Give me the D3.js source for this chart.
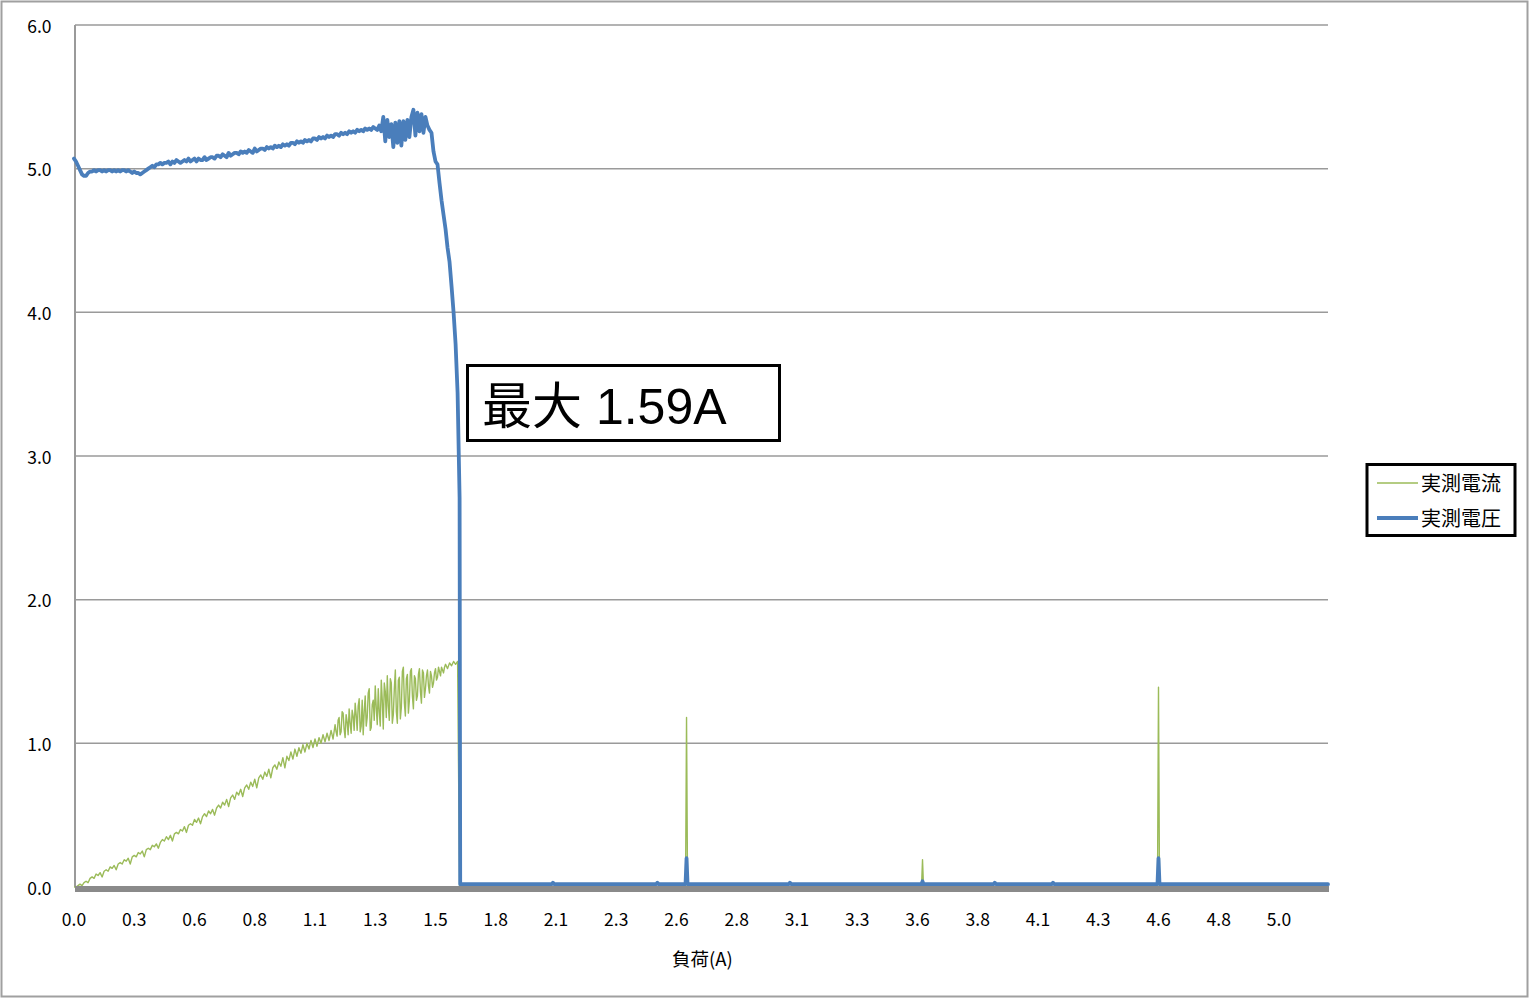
<!DOCTYPE html>
<html><head><meta charset="utf-8">
<script src="https://cdn.jsdelivr.net/npm/d3@7"></script>
<style>body{margin:0;background:#fff}</style>
</head><body><svg id="chart" width="1529" height="999"></svg>
<script>
// ---------- data ----------
const xTickLabels = ["0.0","0.3","0.6","0.8","1.1","1.3","1.5","1.8","2.1","2.3","2.6","2.8","3.1","3.3","3.6","3.8","4.1","4.3","4.6","4.8","5.0"];
const samplesPerLabel = 30;
const sampleCount = 624.4;
const yTicks = [0,1,2,3,4,5,6];
const seriesNames = ["実測電流","実測電圧"];
const xTitle = "負荷(A)";
const annotationText = "最大 1.59A";

// current (A), samples 0..192
const rampCurrent = [
0.00,0.00,0.01,0.02,0.01,0.03,0.04,0.03,0.06,0.07,
0.06,0.09,0.08,0.10,0.07,0.11,0.12,0.11,0.14,0.13,
0.15,0.12,0.16,0.17,0.16,0.19,0.18,0.20,0.16,0.21,
0.22,0.21,0.24,0.23,0.25,0.21,0.26,0.27,0.26,0.29,
0.28,0.30,0.27,0.31,0.33,0.32,0.35,0.33,0.36,0.32,
0.37,0.38,0.37,0.40,0.39,0.42,0.38,0.43,0.44,0.43,
0.47,0.45,0.48,0.44,0.49,0.51,0.49,0.53,0.51,0.54,
0.50,0.55,0.57,0.55,0.59,0.57,0.61,0.56,0.62,0.64,
0.61,0.66,0.64,0.68,0.63,0.69,0.71,0.68,0.73,0.70,
0.75,0.69,0.76,0.78,0.75,0.80,0.77,0.82,0.76,0.83,
0.85,0.82,0.87,0.84,0.90,0.83,0.91,0.88,0.94,0.89,
0.96,0.91,0.97,0.93,0.99,0.94,1.00,0.96,1.02,0.97,
1.03,0.98,1.04,1.00,1.06,1.01,1.07,1.02,1.09,1.03,
1.13,1.05,1.18,1.08,1.21,1.04,1.15,1.24,1.07,1.19,
1.28,1.09,1.31,1.12,1.06,1.33,1.18,1.38,1.11,1.30,
1.40,1.13,1.22,1.44,1.10,1.36,1.47,1.16,1.42,1.20,
1.51,1.14,1.46,1.25,1.53,1.19,1.48,1.30,1.52,1.24,
1.45,1.33,1.52,1.28,1.49,1.38,1.51,1.35,1.47,1.42,
1.52,1.46,1.50,1.53,1.49,1.55,1.52,1.56,1.54,1.57,
1.55,1.57,0.00];

// extra current samples in the dense noisy band, at half steps 130.5 .. 184.5
const bandHalfStart = 130.5;
const bandCurrentHalf = [
1.08,1.16,1.06,1.22,1.10,1.20,1.06,1.14,1.23,1.09,
1.20,1.26,1.08,1.30,1.22,1.12,1.35,1.09,1.27,1.16,
1.25,1.38,1.12,1.30,1.42,1.18,1.26,1.45,1.14,1.38,
1.22,1.44,1.17,1.50,1.28,1.45,1.21,1.50,1.33,1.47,
1.30,1.48,1.36,1.51,1.32,1.47,1.40,1.50,1.39,1.49,
1.44,1.53,1.47,1.51,1.53];

// voltage (V), samples 0..192
const rampVoltage = [
5.07,5.05,5.02,4.99,4.96,4.95,4.95,4.97,4.98,
4.98,4.99,4.98,4.99,4.99,4.98,4.99,4.98,4.99,4.99,4.98,4.99,4.98,4.99,4.98,4.99,4.99,4.98,4.99,4.98,4.97,4.98,4.97,
4.97,4.96,4.97,4.98,4.99,5.00,5.01,5.02,5.01,5.03,5.03,5.04,5.03,5.04,
5.04,5.05,5.03,5.05,5.04,5.06,5.05,5.04,5.05,5.06,
5.05,5.07,5.05,5.06,5.07,5.05,5.07,5.06,5.06,5.08,
5.06,5.07,5.08,5.08,5.07,5.09,5.09,5.08,5.10,5.09,
5.08,5.11,5.09,5.10,5.11,5.11,5.10,5.12,5.11,5.12,
5.11,5.13,5.12,5.11,5.14,5.12,5.13,5.14,5.14,5.13,
5.15,5.14,5.15,5.14,5.16,5.15,5.16,5.15,5.17,5.16,
5.17,5.16,5.18,5.18,5.17,5.19,5.18,5.19,5.18,5.20,
5.19,5.20,5.19,5.21,5.21,5.20,5.22,5.21,5.22,5.21,
5.23,5.22,5.23,5.22,5.24,5.24,5.23,5.25,5.24,5.25,
5.24,5.26,5.25,5.26,5.25,5.27,5.26,5.27,5.26,5.28,
5.27,5.28,5.27,5.29,5.28,5.27,
5.30,5.26,5.36,5.19,5.34,5.22,5.31,5.15,5.32,5.18,
5.33,5.16,5.33,5.20,5.34,5.22,5.36,5.41,5.23,5.39,
5.26,5.38,5.25,5.36,5.30,5.27,5.25,5.12,5.05,5.03,
4.90,4.78,4.68,4.58,4.45,4.35,4.18,4.00,3.78,3.44,
2.71];

// after the cut-off: sparse samples (index, current, voltage)
const tailIndex   = [192.3, 238,238.5,239, 290,290.5,291, 304.5,305,305.5, 356,356.5,357, 422,422.5,423, 458,458.5,459, 487,487.5,488, 539.5,540,540.5, 624.4];
const tailCurrent = [0,   0,0,0,       0,0,0,       0,1.18,0,          0,0,0,       0,0.19,0,        0,0,0,       0,0,0,       0,1.39,0,          0];
const tailVoltage = [0.02, 0.02,0.03,0.02, 0.02,0.03,0.02, 0.02,0.20,0.02, 0.02,0.03,0.02, 0.02,0.04,0.02, 0.02,0.03,0.02, 0.02,0.03,0.02, 0.02,0.20,0.02, 0.02];

// ---------- chart ----------
const W = 1529, H = 999;
const plot = {left: 75, right: 1328, top: 25, bottom: 887};
const colors = {current: "#9BBB59", voltage: "#4A7EBB", grid: "#9a9a9a", axis: "#8a8a8a"};
const tickFont = "'Noto Sans CJK JP', 'Noto Sans', sans-serif";

const svg = d3.select("#chart");
svg.append("rect").attr("x", 1.5).attr("y", 1.5).attr("width", W - 3).attr("height", H - 4)
  .attr("fill", "#fff").attr("stroke", "#a0a0a0").attr("stroke-width", 2);

const x = d3.scaleLinear().domain([0, sampleCount]).range([plot.left - 1, plot.right]);
const y = d3.scaleLinear().domain([0, 6]).range([plot.bottom, plot.top]);

// gridlines
svg.append("g").selectAll("line").data(yTicks.filter(d => d > 0)).join("line")
  .attr("x1", plot.left).attr("x2", plot.right)
  .attr("y1", d => y(d)).attr("y2", d => y(d))
  .attr("stroke", colors.grid).attr("stroke-width", 1.5);

// y axis line
svg.append("line").attr("x1", plot.left).attr("x2", plot.left)
  .attr("y1", plot.top).attr("y2", plot.bottom)
  .attr("stroke", colors.grid).attr("stroke-width", 2);

// y tick labels
svg.append("g").selectAll("text").data(yTicks).join("text")
  .attr("x", 51.5).attr("y", d => y(d) + 3)
  .attr("text-anchor", "end").attr("dominant-baseline", "middle")
  .attr("font-family", tickFont).attr("font-size", 17.5).attr("fill", "#000")
  .text(d => d.toFixed(1));

// x tick labels
svg.append("g").selectAll("text").data(xTickLabels).join("text")
  .attr("x", (d, i) => x(i * samplesPerLabel)).attr("y", 921)
  .attr("text-anchor", "middle").attr("dominant-baseline", "middle")
  .attr("font-family", tickFont).attr("font-size", 17.5).attr("fill", "#000")
  .text(d => d);

svg.append("text").attr("x", (plot.left + plot.right) / 2 + 1).attr("y", 961)
  .attr("text-anchor", "middle").attr("dominant-baseline", "middle")
  .attr("font-family", tickFont).attr("font-size", 18.5).attr("fill", "#000")
  .text(xTitle);

// series
const currentData = rampCurrent.map((v, i) => [i, v])
  .concat(bandCurrentHalf.map((v, k) => [bandHalfStart + k, v]))
  .sort((a, b) => a[0] - b[0])
  .concat(tailIndex.map((t, k) => [t, tailCurrent[k]]));
const voltageData = rampVoltage.map((v, i) => [i, v]).concat(tailIndex.map((t, k) => [t, tailVoltage[k]]));
const line = d3.line().x(d => x(d[0])).y(d => y(d[1]));

svg.append("path").datum(currentData).attr("d", line)
  .attr("fill", "none").attr("stroke", colors.current).attr("stroke-width", 1.4)
  .attr("stroke-linejoin", "round");

// thick category-axis line at zero
svg.append("line").attr("x1", plot.left).attr("x2", plot.right + 1)
  .attr("y1", y(0) + 2).attr("y2", y(0) + 2)
  .attr("stroke", colors.axis).attr("stroke-width", 6);

svg.append("path").datum(voltageData).attr("d", line)
  .attr("fill", "none").attr("stroke", colors.voltage).attr("stroke-width", 3.8)
  .attr("stroke-linejoin", "round").attr("stroke-linecap", "round");

// annotation box
const ann = svg.append("g");
ann.append("rect").attr("x", 467.5).attr("y", 365.5).attr("width", 312).attr("height", 75)
  .attr("fill", "#fff").attr("stroke", "#000").attr("stroke-width", 3);
ann.append("text").attr("x", 482).attr("y", 424)
  .attr("font-family", "'Liberation Sans', Arial, 'Noto Sans CJK JP', sans-serif")
  .attr("font-size", 50).attr("fill", "#000").text(annotationText);

// legend
const lg = svg.append("g");
lg.append("rect").attr("x", 1367).attr("y", 464.5).attr("width", 148).attr("height", 71)
  .attr("fill", "#fff").attr("stroke", "#000").attr("stroke-width", 3);
const legendItems = [
  {name: seriesNames[0], color: colors.current, w: 1.3, y: 483},
  {name: seriesNames[1], color: colors.voltage, w: 4, y: 518}
];
legendItems.forEach(it => {
  lg.append("line").attr("x1", 1377).attr("x2", 1418).attr("y1", it.y).attr("y2", it.y)
    .attr("stroke", it.color).attr("stroke-width", it.w);
  lg.append("text").attr("x", 1421).attr("y", it.y + 3)
    .attr("dominant-baseline", "middle")
    .attr("font-family", tickFont).attr("font-size", 20).attr("fill", "#000")
    .text(it.name);
});
</script></body></html>
